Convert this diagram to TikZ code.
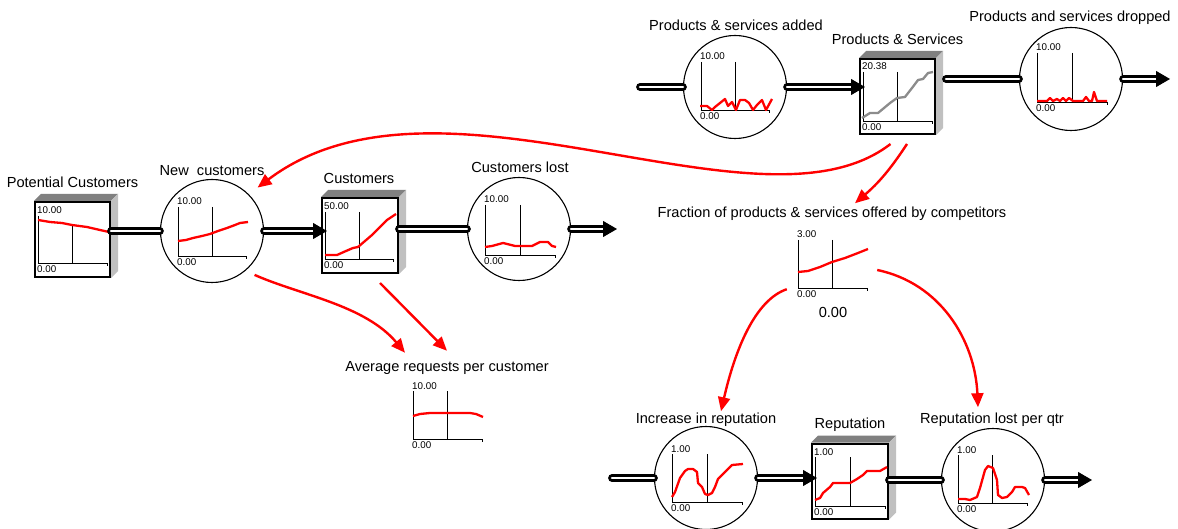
\documentclass[tikz,border=0pt]{standalone}
\usepackage{fontspec}
\setmainfont{Liberation Sans}
\usetikzlibrary{positioning, arrows.meta}

\definecolor{linkred}{RGB}{255,0,0}
\definecolor{shadetop}{RGB}{128,128,128}
\definecolor{shadeside}{RGB}{192,192,192}
\definecolor{levelgray}{RGB}{140,140,140}

\tikzset{
  stock/.style={draw, line width=2pt, fill=white, minimum width=75, minimum height=75, inner sep=0},
  valve/.style={draw, circle, line width=1.1pt, fill=white, minimum size=103, inner sep=0},
  conv/.style={minimum width=90, minimum height=48, inner sep=0},
  lbl/.style={font=\fontsize{14.6}{16}\selectfont, inner sep=0, anchor=base},
  ticklbl/.style={font=\fontsize{9.8}{10}\selectfont, inner sep=0, anchor=base west},
  chartaxis/.style={line width=0.9pt},
  trend/.style={draw=linkred, line width=2.3pt, line join=round},
  pipe/.style={draw=black, line width=2.6pt, double=white, double distance=2.6pt, line cap=round},
  pipetip/.style={line width=1pt, -{Triangle[length=14pt, width=16pt]}},
  link/.style={draw=linkred, line width=2.4pt, -{Triangle[length=14pt, width=12pt]}},
}

% 3d shading of a stock
\newcommand{\stockshade}[1]{%
  \fill[shadetop] (#1.north west) -- ++(7,-7) -- ([shift={(7,-7)}]#1.north east) -- (#1.north east) -- cycle;
  \fill[shadeside] (#1.north east) -- ([shift={(7,-7)}]#1.north east) -- ([shift={(7,-7)}]#1.south east) -- (#1.south east) -- cycle;
}
% small graph: left, top, right, bottom, top of middle line, max value
\newcommand{\minichart}[6]{%
  \draw[chartaxis] (#1,#2) -- (#1,#4) -- (#3,#4) -- (#3,#4+3);
  \draw[chartaxis] ({(#1+#3)/2},#5) -- ({(#1+#3)/2},#4);
  \node[ticklbl] at (#1-1,#2-2) {#6};
  \node[ticklbl] at (#1-1,#4+9.5) {0.00};
}

\begin{document}
\begin{tikzpicture}[x=1pt, y=-1pt]
\useasboundingbox (0,0) rectangle (1178,529);

% stocks
\node[stock] (potcust) at (72.5,239.5) {};
\node[stock, minimum width=76] (cust) at (360,235.5) {};
\node[stock] (prodserv) at (897.5,96.5) {};
\node[stock, minimum width=76] (reput) at (850,481) {};
\foreach \s in {potcust, cust, prodserv, reput} {\stockshade{\s}}

% flows
\node[valve] (newcust) at (212,231) {};
\node[valve] (custlost) at (519,229) {};
\node[valve] (psadded) at (735,87) {};
\node[valve] (psdropped) at (1071,79) {};
\node[valve] (repinc) at (706,478) {};
\node[valve] (replost) at (993,480) {};

% converter
\node[conv] (frac) at (832,265) {};

% labels
\node[lbl] (potcust-l) at (72.5,188) {Potential Customers};
\node[lbl] (newcust-l) at (212,176) {New\ \ customers};
\node[lbl] (cust-l) at (359,184) {Customers};
\node[lbl] (custlost-l) at (520,173) {Customers lost};
\node[lbl] (psadded-l) at (736,31) {Products \& services added};
\node[lbl] (prodserv-l) at (897.5,45) {Products \& Services};
\node[lbl] (psdropped-l) at (1070,22) {Products and services dropped};
\node[lbl] (frac-l) at (832,218) {Fraction of products \& services offered by competitors};
\node[lbl] (frac-v) at (833,318) {0.00};
\node[lbl] (avgreq-l) at (447,371) {Average requests per customer};
\node[lbl] (repinc-l) at (706,423) {Increase in reputation};
\node[lbl] (reput-l) at (850,428) {Reputation};
\node[lbl] (replost-l) at (992,423) {Reputation lost per qtr};

% graphs
\minichart{38}{216}{107}{263}{225}{10.00}
\minichart{178}{207}{246}{256}{207}{10.00}
\minichart{325}{212}{393}{259}{212}{50.00}
\minichart{485}{205}{555}{255}{205}{10.00}
\minichart{701}{62}{769}{110}{62}{10.00}
\minichart{863}{72}{932}{121}{72}{20.38}
\minichart{1037}{53}{1107}{102}{53}{10.00}
\minichart{798}{240}{867}{288}{240}{3.00}
\minichart{413}{391}{482}{439}{391}{10.00}
\minichart{672}{454}{742}{502}{454}{1.00}
\minichart{815}{457}{885}{506}{457}{1.00}
\minichart{958}{455}{1027}{503}{455}{1.00}

\draw[trend] (38,220) -- (50,222) -- (62,223) -- (72,225) -- (87,227) -- (100,230) -- (109,232);
\draw[trend] (178,241) -- (186,240) -- (193,238) -- (202,236) -- (210,234) -- (218,231) -- (227,228) -- (235,225) -- (240,223) -- (248,222);
\draw[trend] (325,255) -- (337,255) -- (346,251) -- (353,248) -- (358,247) -- (365,241) -- (372,235) -- (380,227) -- (387,220) -- (396,214);
\draw[trend] (485,247) -- (492,246) -- (503,243) -- (515,246) -- (532,246) -- (540,242) -- (548,242) -- (552,246) -- (556,247);
\draw[trend] (700,106) -- (707,106) -- (712,110) -- (715,107) -- (720,103) -- (725,99) -- (728,106) -- (732,102) -- (736,110) -- (740,100) -- (745,100) -- (749,103) -- (753,110) -- (757,105) -- (762,100) -- (766,110) -- (772,99);
\draw[trend, draw=levelgray] (862,118) -- (870,113) -- (878,113) -- (890,103) -- (897,98) -- (905,97) -- (912,88) -- (918,80) -- (923,79) -- (928,73) -- (933,72);
\draw[trend] (1037,101) -- (1047,101) -- (1050,98) -- (1053,101) -- (1057,99) -- (1060,101) -- (1063,98) -- (1066,101) -- (1069,98) -- (1073,101) -- (1083,101) -- (1086,97) -- (1089,101) -- (1092,101) -- (1094,92) -- (1097,101) -- (1107,101);
\draw[trend] (798,272) -- (808,271) -- (820,267) -- (832,262) -- (845,258) -- (858,253) -- (868,249);
\draw[trend] (413,416) -- (420,414) -- (430,413) -- (470,413) -- (476,414) -- (483,417);
\draw[trend] (672,497) -- (675,492) -- (680,478) -- (685,471) -- (688,469) -- (693,469) -- (697,472) -- (698,483) -- (702,487) -- (705,494) -- (708,495) -- (712,493) -- (715,487) -- (718,479) -- (725,472) -- (732,465) -- (743,464);
\draw[trend] (815,500) -- (820,498) -- (823,493) -- (830,487) -- (833,483) -- (850,483) -- (857,479) -- (863,475) -- (867,471) -- (880,471) -- (887,467);
\draw[trend] (958,499) -- (965,499) -- (970,500) -- (977,497) -- (980,488) -- (985,470) -- (988,466) -- (993,468) -- (997,480) -- (998,495) -- (1002,498) -- (1007,497) -- (1012,492) -- (1015,487) -- (1022,487) -- (1025,488) -- (1029,495);

% pipe ends
\coordinate (custin) at (cust.west |- newcust);
\coordinate (custsink) at (617,229);
\coordinate (pssrc) at (640,87);
\coordinate (psin) at (prodserv.west |- psadded);
\coordinate (psout) at (prodserv.east |- psdropped);
\coordinate (pssink) at (1170,79);
\coordinate (repsrc) at (612,478);
\coordinate (repin) at (reput.west |- repinc);
\coordinate (repsink) at (1092,480);

% pipes
\draw[pipe] (potcust.east |- newcust) -- (newcust.west);
\draw[pipe] (newcust.east) -- ([xshift=-6]custin);
\draw[pipetip] ([xshift=-8]custin) -- ([xshift=6]custin);
\draw[pipe] (cust.east |- custlost) -- (custlost.west);
\draw[pipe] (custlost.east) -- ([xshift=-12]custsink);
\draw[pipetip] ([xshift=-14]custsink) -- (custsink);

\draw[pipe] (pssrc) -- (psadded.west);
\draw[pipe] (psadded.east) -- ([xshift=-6]psin);
\draw[pipetip] ([xshift=-8]psin) -- ([xshift=6]psin);
\draw[pipe] ([xshift=10]psout) -- (psdropped.west);
\draw[pipe] (psdropped.east) -- ([xshift=-12]pssink);
\draw[pipetip] ([xshift=-14]pssink) -- (pssink);

\draw[pipe] (repsrc) -- (repinc.west);
\draw[pipe] (repinc.east) -- ([xshift=-6]repin);
\draw[pipetip] ([xshift=-8]repin) -- ([xshift=6]repin);
\draw[pipe] (reput.east |- replost) -- (replost.west);
\draw[pipe] (replost.east) -- ([xshift=-12]repsink);
\draw[pipetip] ([xshift=-14]repsink) -- (repsink);

% connectors
\draw[link, shorten >=11pt] ([shift={(-7,9)}]prodserv.south) .. controls (760,245) and (440,50) .. (newcust.45);
\draw[link] ([shift={(9.5,9)}]prodserv.south) to[bend left=8] ([shift={(23,-4)}]frac-l.north);
\draw[link, shorten <=10pt] (newcust.-50) .. controls (300,295) and (365,305) .. ([shift={(-42,-8)}]avgreq-l.north);
\draw[link] ([shift={(20,9)}]cust.south) -- ([shift={(0,-10)}]avgreq-l.north);
\draw[link] (frac.south west) .. controls (755,300) and (735,350) .. ([shift={(15,-1)}]repinc-l.north);
\draw[link] ([shift={(0,5)}]frac.east) .. controls (940,283) and (975,340) .. ([shift={(-14,-5)}]replost-l.north);
\end{tikzpicture}
\end{document}
